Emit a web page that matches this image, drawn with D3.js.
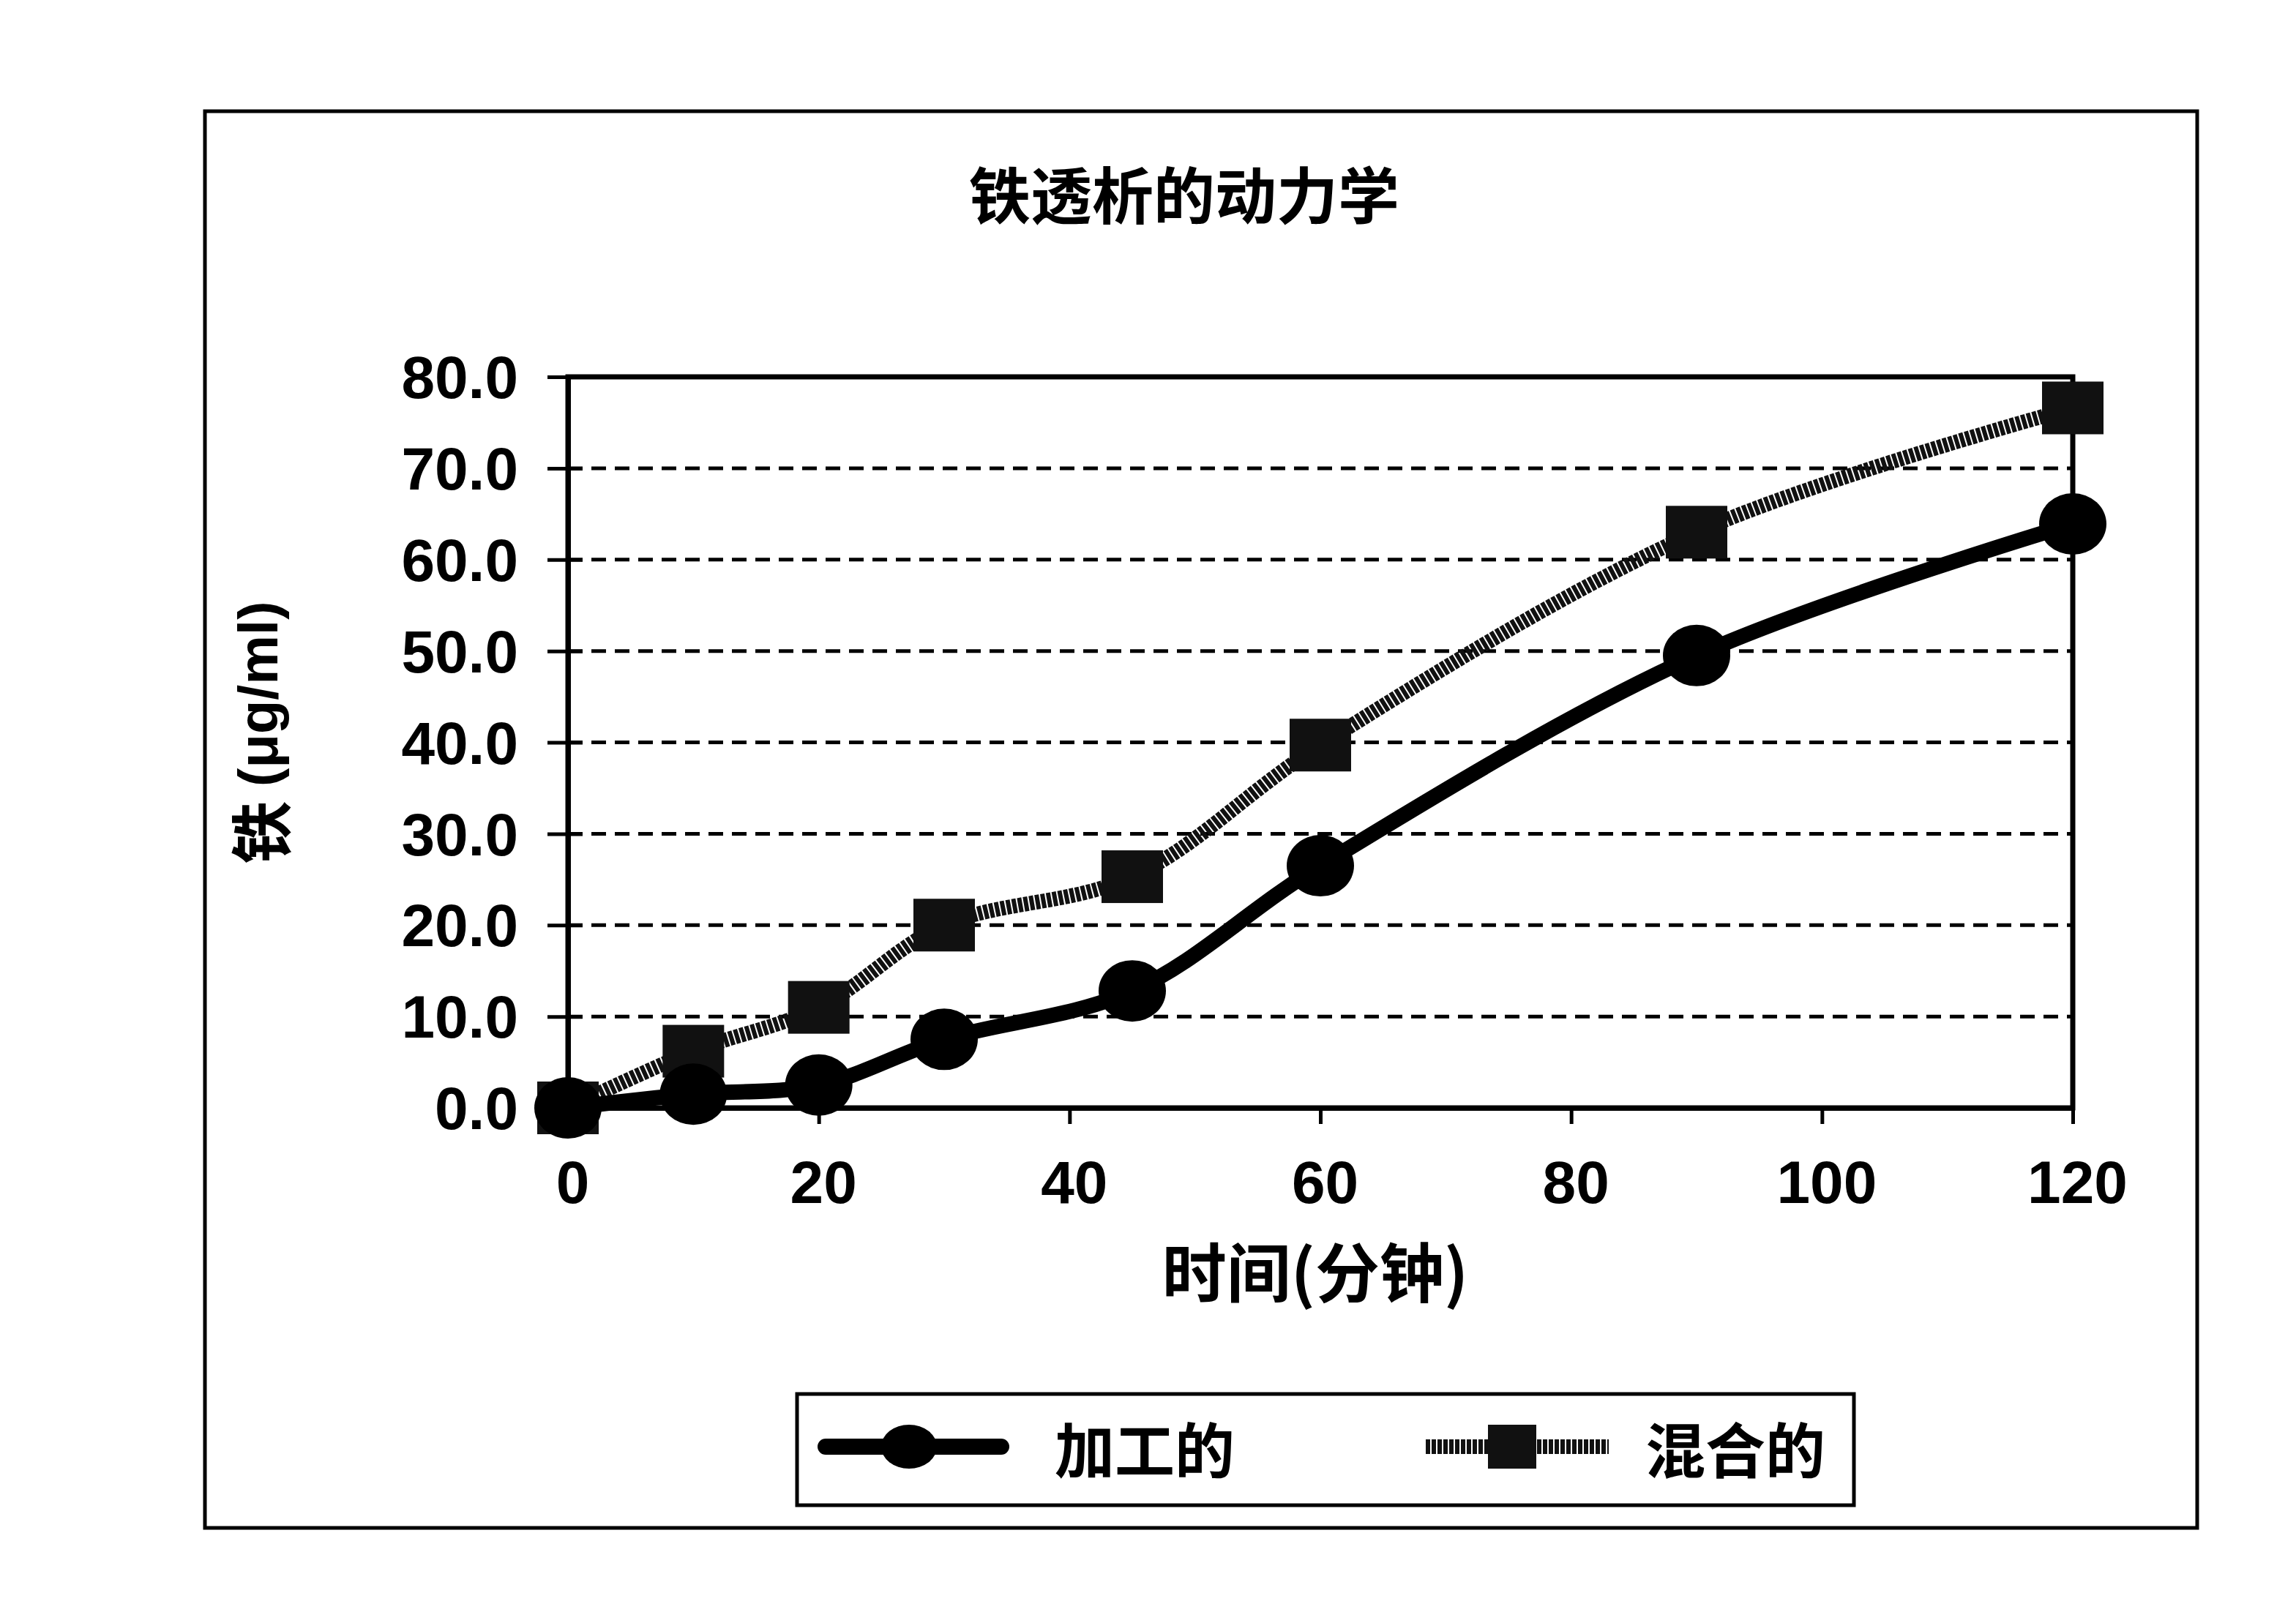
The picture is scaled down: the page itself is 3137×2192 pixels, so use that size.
<!DOCTYPE html>
<html>
<head>
<meta charset="utf-8">
<script src="https://cdn.jsdelivr.net/npm/d3@7/dist/d3.min.js"></script>
<style>
  html, body { margin: 0; padding: 0; background: #fff; }
  svg { display: block; }
</style>
</head>
<body>
<script>
// ---- data ----
const times = [0, 10, 20, 30, 45, 60, 90, 120];
const processed = [0, 1.5, 2.5, 7.5, 12.8, 26.5, 49.5, 63.9];
const mixed = [0, 6.2, 11, 20, 25.3, 39.7, 63, 76.6];
const seriesNames = ["加工的", "混合的"];
const yTicks = [0, 10, 20, 30, 40, 50, 60, 70, 80];
const xTicks = [0, 20, 40, 60, 80, 100, 120];
const titleText = "铁透析的动力学";
const xTitle = "时间(分钟)";
const yTitleCJK = "铁";
const yTitleUnit = "(μg/ml)";

// ---- layout ----
const W = 3137, H = 2192;
const plot = { left: 776, right: 2832, top: 515, bottom: 1514 };
const cjk = "'Noto Sans CJK SC', 'Noto Sans', sans-serif";
const latin = "'Liberation Sans', Arial, sans-serif";

const svg = d3.select("body").append("svg").attr("width", W).attr("height", H);
svg.append("rect").attr("width", W).attr("height", H).attr("fill", "#fff");

// outer frame
svg.append("rect").attr("x", 280).attr("y", 152).attr("width", 2722).attr("height", 1936)
  .attr("fill", "none").attr("stroke", "#000").attr("stroke-width", 5);

const x = d3.scaleLinear().domain([0, 120]).range([plot.left, plot.right]);
const y = d3.scaleLinear().domain([0, 80]).range([plot.bottom, plot.top]);

// title
svg.append("text").attr("x", 1618).attr("y", 262).attr("text-anchor", "middle")
  .attr("dominant-baseline", "central")
  .style("font-family", cjk).style("font-weight", 700).style("font-size", "84px")
  .text(titleText);

// gridlines
svg.append("g").selectAll("line").data(yTicks.filter(d => d > 0 && d < 80)).join("line")
  .attr("x1", plot.left).attr("x2", plot.right)
  .attr("y1", d => y(d)).attr("y2", d => y(d))
  .attr("stroke", "#000").attr("stroke-width", 5).attr("stroke-dasharray", "20 12");

// plot frame
svg.append("rect").attr("x", plot.left).attr("y", plot.top)
  .attr("width", plot.right - plot.left).attr("height", plot.bottom - plot.top)
  .attr("fill", "none").attr("stroke", "#000").attr("stroke-width", 7);

// y axis
const yAxis = d3.axisLeft(y).tickValues(yTicks).tickFormat(d3.format(".1f"))
  .tickSizeInner(28).tickSizeOuter(0).tickPadding(40);
const gy = svg.append("g").attr("transform", `translate(${plot.left},0)`).call(yAxis);
gy.select(".domain").attr("stroke-width", 7);
gy.selectAll(".tick line").attr("stroke-width", 5).attr("x2", 20).attr("x1", -28);
gy.selectAll(".tick text").style("font-family", latin).style("font-weight", 700)
  .style("font-size", "82px").attr("fill", "#000").attr("dy", "0.35em");

// x axis
const xAxis = d3.axisBottom(x).tickValues(xTicks).tickFormat(d3.format("d"))
  .tickSizeInner(22).tickSizeOuter(0).tickPadding(50);
const gx = svg.append("g").attr("transform", `translate(0,${plot.bottom})`).call(xAxis);
gx.select(".domain").attr("stroke-width", 7);
gx.selectAll(".tick line").attr("stroke-width", 5);
gx.selectAll(".tick text").style("font-family", latin).style("font-weight", 700)
  .style("font-size", "82px").attr("fill", "#000")
  .attr("transform", "translate(6,0)");

// axis titles
svg.append("text").attr("x", 1797).attr("y", 1733).attr("text-anchor", "middle")
  .attr("dominant-baseline", "central")
  .style("font-family", cjk).style("font-weight", 700).style("font-size", "88px")
  .text(xTitle);

const yt = svg.append("text").attr("transform", "translate(352,1001) rotate(-90)")
  .attr("text-anchor", "middle").attr("dominant-baseline", "central")
  .style("font-weight", 700);
yt.append("tspan").style("font-family", cjk).style("font-size", "86px").text(yTitleCJK + " ");
yt.append("tspan").style("font-family", latin).style("font-size", "76px").text(yTitleUnit);

// series
const ptsP = times.map((t, i) => [t, processed[i]]);
const ptsM = times.map((t, i) => [t, mixed[i]]);
const line = d3.line().x(d => x(d[0])).y(d => y(d[1])).curve(d3.curveCatmullRom.alpha(0.5));

const gS = svg.append("g");
gS.append("path").attr("d", line(ptsM)).attr("fill", "none")
  .attr("stroke", "#111").attr("stroke-width", 20).attr("stroke-dasharray", "6 2");
gS.selectAll("rect.m").data(ptsM).join("rect").attr("class", "m")
  .attr("x", d => x(d[0]) - 42).attr("y", d => y(d[1]) - 36)
  .attr("width", 84).attr("height", 72).attr("fill", "#111");

gS.append("path").attr("d", line(ptsP)).attr("fill", "none")
  .attr("stroke", "#000").attr("stroke-width", 21).attr("stroke-linejoin", "round");
gS.selectAll("ellipse.p").data(ptsP).join("ellipse").attr("class", "p")
  .attr("cx", d => x(d[0])).attr("cy", d => y(d[1]))
  .attr("rx", 46).attr("ry", 42).attr("fill", "#000");

// legend
const lg = svg.append("g");
lg.append("rect").attr("x", 1089).attr("y", 1905).attr("width", 1444).attr("height", 152)
  .attr("fill", "#fff").attr("stroke", "#000").attr("stroke-width", 5);
const ly = 1977;
lg.append("line").attr("x1", 1128).attr("x2", 1368).attr("y1", ly).attr("y2", ly)
  .attr("stroke", "#000").attr("stroke-width", 22).attr("stroke-linecap", "round");
lg.append("ellipse").attr("cx", 1242).attr("cy", ly).attr("rx", 38).attr("ry", 30).attr("fill", "#000");
lg.append("text").attr("x", 1441).attr("y", ly).attr("dominant-baseline", "central")
  .style("font-family", cjk).style("font-weight", 700).style("font-size", "82px")
  .text(seriesNames[0]);

lg.append("line").attr("x1", 1948).attr("x2", 2198).attr("y1", ly).attr("y2", ly)
  .attr("stroke", "#111").attr("stroke-width", 20).attr("stroke-dasharray", "6 2");
lg.append("rect").attr("x", 2066 - 33).attr("y", ly - 30).attr("width", 66).attr("height", 60)
  .attr("fill", "#111");
lg.append("text").attr("x", 2248).attr("y", ly).attr("dominant-baseline", "central")
  .style("font-family", cjk).style("font-weight", 700).style("font-size", "82px")
  .text(seriesNames[1]);
</script>
</body>
</html>
